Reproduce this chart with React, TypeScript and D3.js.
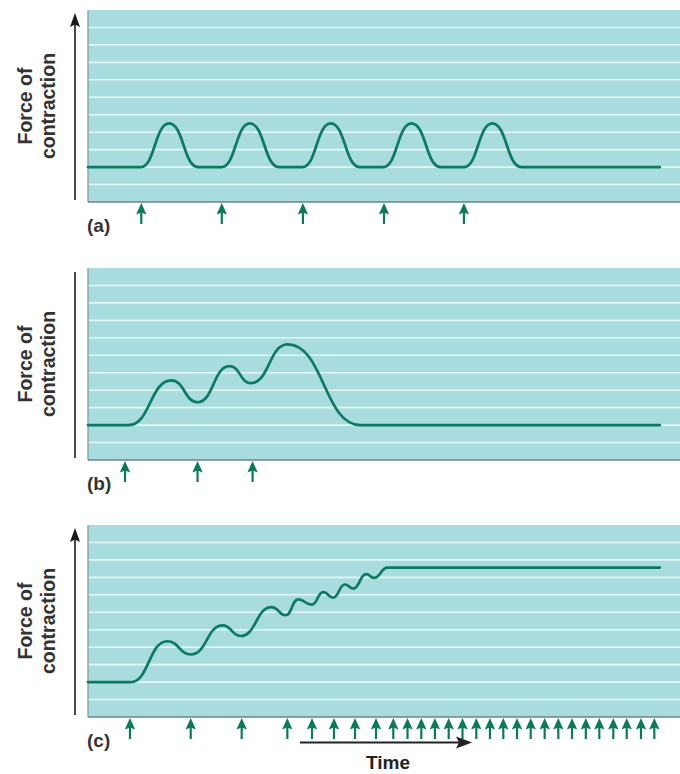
import React from "react";
import * as d3 from "d3";

// ---- Data (time in arbitrary units 0–100, force in grid bands 0–11) ----
const panelLabels = ["(a)", "(b)", "(c)"];
const yLabelLines = ["Force of", "contraction"];
const timeLabel = "Time";

// turning points of each force trace: [time, force]
const curveA: [number, number][] = [
  [0, 2],
  [8.9, 2], [13.7, 4.5], [18.6, 2],
  [22.55, 2], [27.35, 4.5], [32.25, 2],
  [36.2, 2], [41.0, 4.5], [45.9, 2],
  [49.85, 2], [54.65, 4.5], [59.55, 2],
  [63.5, 2], [68.3, 4.5], [73.2, 2],
  [96.6, 2],
];
const stimuliA = [9.0, 22.6, 36.3, 50.0, 63.5];

const curveB: [number, number][] = [
  [0, 2], [6.9, 2], [14.1, 4.56], [18.5, 3.31], [23.9, 5.38],
  [27.5, 4.4], [33.7, 6.62], [46.0, 2], [96.6, 2],
];
const stimuliB = [6.25, 18.5, 27.8];

const curveC: [number, number][] = [
  [0, 2], [7.2, 2], [13.4, 4.34], [17.4, 3.58], [22.75, 5.25],
  [25.8, 4.64], [31.0, 6.3], [33.4, 5.83], [35.5, 6.74], [37.8, 6.44],
  [39.75, 7.16], [41.4, 6.84], [43.4, 7.59], [44.8, 7.36], [47.0, 8.18],
  [48.3, 7.97], [50.6, 8.56], [96.6, 8.56],
];
const stimuliC = [
  7.09, 17.35, 25.96, 33.67, 37.84, 41.55, 45.1, 48.65, 51.57, 53.97, 56.3,
  58.6, 60.93, 63.26, 65.59, 67.9, 70.15, 72.47, 74.78, 77.14, 79.44, 81.76,
  84.09, 86.37, 88.73, 91.0, 93.41, 95.66,
];
const gridValues = [1, 2, 3, 4, 5, 6, 7, 8, 9, 10];

// ---- Style ----
const BG = "#a9dcdf";
const GRID = "#e4f5f6";
const TEAL = "#0b7a62";
const ARROW = "#0a7a5c";
const FONT = "'Liberation Sans', Arial, sans-serif";

const panels = [
  { top: 10, curve: curveA, stimuli: stimuliA, head: true },
  { top: 268, curve: curveB, stimuli: stimuliB, head: false },
  { top: 525, curve: curveC, stimuli: stimuliC, head: true },
];

const PANEL_H = 192;
const LEFT = 88;
const RIGHT = 680;

function Panel({ p, label }: { p: typeof panels[number]; label: string }) {
  const bottom = p.top + PANEL_H;
  const x = d3.scaleLinear().domain([0, 100]).range([LEFT, RIGHT]);
  const y = d3.scaleLinear().domain([0, 11]).range([bottom, p.top]);
  const line = d3
    .line<[number, number]>()
    .x((d) => x(d[0]))
    .y((d) => y(d[1]))
    .curve(d3.curveBumpX);
  const cy = (p.top + bottom) / 2;
  const axisX = 75;
  return (
    <g>
      <rect x={LEFT} y={p.top} width={RIGHT - LEFT} height={PANEL_H} fill={BG} />
      {gridValues.map((g) => (
        <line key={g} x1={LEFT} x2={RIGHT} y1={y(g)} y2={y(g)} stroke={GRID} strokeWidth={1.6} />
      ))}
      <line x1={LEFT} x2={LEFT} y1={p.top} y2={bottom} stroke="#7f9797" strokeWidth={1.2} />
      <line x1={LEFT} x2={RIGHT} y1={bottom} y2={bottom} stroke="#6f8585" strokeWidth={1.6} />
      <path d={line(p.curve) || ""} fill="none" stroke={TEAL} strokeWidth={2.7} strokeLinejoin="round" strokeLinecap="round" />
      {/* y axis */}
      <line x1={axisX} x2={axisX} y1={bottom - 2} y2={p.top + (p.head ? 10 : 4)} stroke="#2a2a2a" strokeWidth={1.7} />
      {p.head && (
        <path
          d={`M${axisX},${p.top + 3} L${axisX - 5},${p.top + 17} L${axisX},${p.top + 14.5} L${axisX + 5},${p.top + 17} Z`}
          fill="#1a1a1a"
        />
      )}
      {yLabelLines.map((t, i) => (
        <text
          key={t}
          transform={`translate(${i === 0 ? 31.5 : 55},${cy}) rotate(-90)`}
          textAnchor="middle"
          fontFamily={FONT}
          fontWeight="bold"
          fontSize={19.5}
          fill="#333"
        >
          {t}
        </text>
      ))}
      {/* stimulus arrows */}
      {p.stimuli.map((s, i) => {
        const sx = x(s);
        const tip = bottom + 1;
        return (
          <g key={i}>
            <line x1={sx} x2={sx} y1={tip + 8} y2={tip + 21} stroke={ARROW} strokeWidth={2.2} />
            <path
              d={`M${sx},${tip} L${sx - 5.2},${tip + 11.5} L${sx},${tip + 9.5} L${sx + 5.2},${tip + 11.5} Z`}
              fill={ARROW}
            />
          </g>
        );
      })}
      <text
        x={LEFT - 1}
        y={bottom + 30}
        fontFamily={FONT}
        fontWeight="bold"
        fontSize={19}
        fill="#333"
      >
        {label}
      </text>
    </g>
  );
}

export default function App() {
  return (
    <svg
      width={680}
      height={774}
      style={{ position: "absolute", left: 0, top: 0, background: "#fff" }}
    >
      {panels.map((p, i) => (
        <Panel key={i} p={p} label={panelLabels[i]} />
      ))}
      {/* Time arrow */}
      <line x1={300} x2={460} y1={742.5} y2={742.5} stroke="#222" strokeWidth={2.2} />
      <path d="M472,742.5 L456,736.5 L459,742.5 L456,748.5 Z" fill="#222" />
      <text x={388} y={769} textAnchor="middle" fontFamily={FONT} fontWeight="bold" fontSize={19} fill="#222">
        {timeLabel}
      </text>
    </svg>
  );
}
